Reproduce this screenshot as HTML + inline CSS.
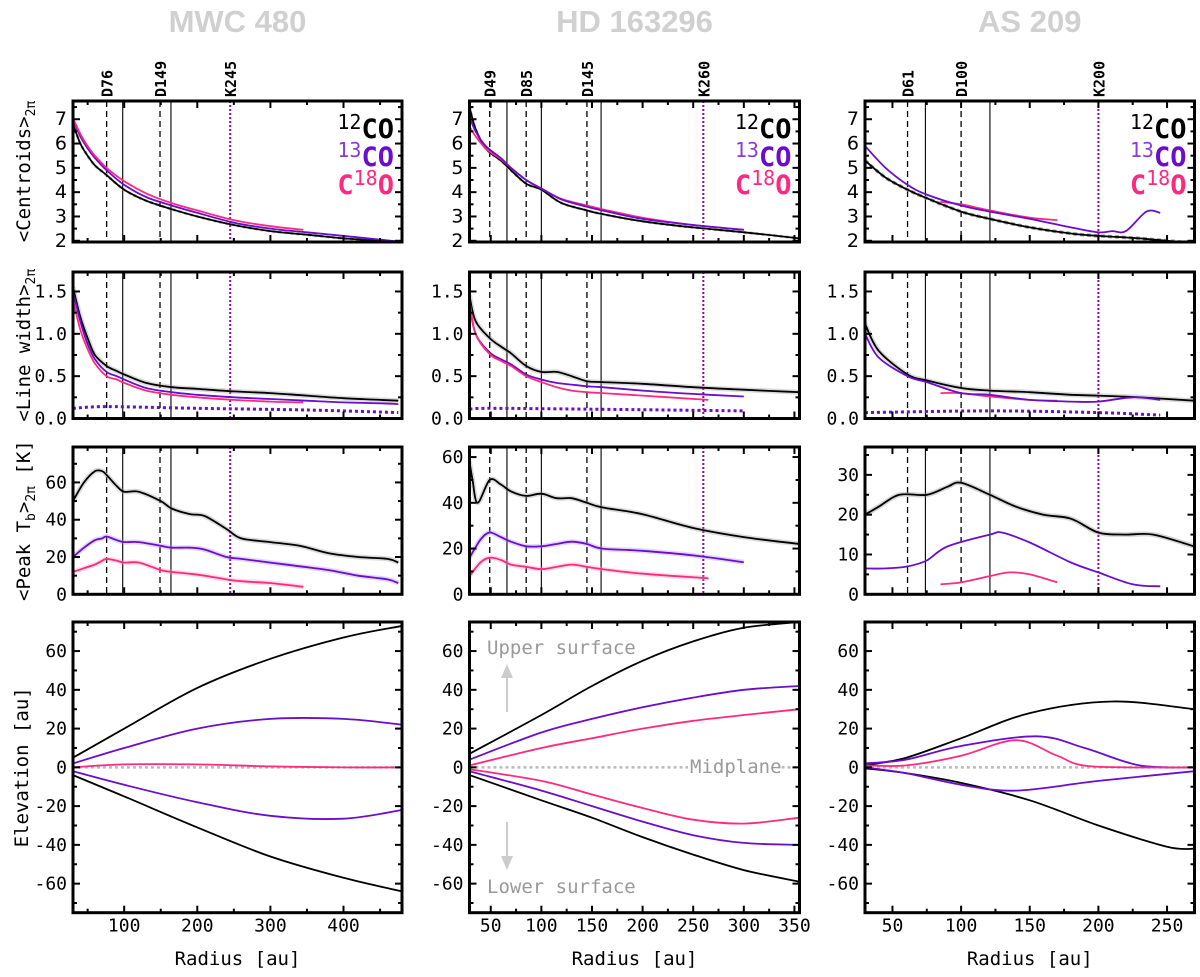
<!DOCTYPE html>
<html><head><meta charset="utf-8"><style>
body{margin:0;background:#fff}
svg text{font-family:"DejaVu Sans Mono","Liberation Mono",monospace}
</style></head><body>
<svg id="fig" width="1200" height="972" viewBox="0 0 1200 972" xmlns="http://www.w3.org/2000/svg"></svg>
<script>
// ---- data: MWC 480 ----
const mwcCR=[30,40,50,60,76,100,130,165,200,250,300,350,400,450,480];
const mwcC12=[6.8,6.0,5.5,5.1,4.7,4.1,3.65,3.3,3.0,2.65,2.4,2.25,2.1,2.0,1.95];
const mwcC13=[7.0,6.3,5.8,5.4,4.9,4.3,3.8,3.45,3.15,2.75,2.5,2.35,2.2,2.05,1.95];
const mwcC18R=[30,40,50,60,76,100,130,165,200,250,300,345];
const mwcC18=[7.05,6.4,5.9,5.5,5.0,4.45,3.95,3.55,3.25,2.85,2.6,2.45];
const mwcLR=[30,40,50,60,76,90,100,130,165,200,250,300,350,400,450,475];
const mwcL12=[1.55,1.2,0.95,0.75,0.62,0.56,0.52,0.42,0.37,0.35,0.32,0.3,0.27,0.24,0.22,0.21];
const mwcL13=[1.5,1.15,0.88,0.7,0.55,0.5,0.46,0.36,0.31,0.28,0.25,0.23,0.21,0.19,0.18,0.17];
const mwcL18R=[30,40,50,60,76,90,100,130,165,200,250,300,345];
const mwcL18=[1.4,1.05,0.82,0.65,0.5,0.46,0.42,0.33,0.28,0.25,0.22,0.2,0.19];
const mwcLdR=[30,76,200,350,475];
const mwcLd=[0.12,0.14,0.12,0.1,0.07];
const mwcTR=[30,45,60,70,76,90,100,120,150,165,190,210,240,260,300,340,380,420,460,475];
const mwcT12=[50,60,66,66,64,58,55,55,50,46,43,42,35,30,28,26,22,20,19,17];
const mwcT13=[20,25,29,30,31,29,28,28,26,25,25,24,20,19,17,15,13,10,8,6];
const mwcT18R=[30,45,60,70,76,90,100,120,150,165,190,210,240,260,300,345];
const mwcT18=[12,14,16,18,19,18,17,17,13,12,11,10,8,7,6,4];
const mwcER=[30,100,200,300,400,480];
const mwcE12u=[5,20,41,56,67,73];
const mwcE12l=[-4,-15,-31,-46,-57,-64];
const mwcE13u=[2,10,20,25,25,22];
const mwcE13l=[-2,-9,-18,-25,-26.5,-22];
const mwcE18=[0,1.5,1.5,0.5,0,0];
// ---- data: HD 163296 ----
const hdCR=[29,35,45,60,70,85,100,120,145,160,200,250,300,355];
const hdC12=[7.5,6.6,5.8,5.3,4.9,4.35,4.1,3.55,3.25,3.1,2.8,2.55,2.35,2.1];
const hdC13R=[29,35,45,60,70,85,100,120,145,160,200,250,300];
const hdC13=[7.1,6.5,5.9,5.4,5.0,4.5,4.15,3.7,3.4,3.25,2.9,2.65,2.45];
const hdC18=[6.7,6.3,5.8,5.35,5.0,4.5,4.15,3.72,3.45,3.3,2.95,2.65,2.45];
const hdLR=[29,35,49,60,70,85,100,115,130,145,160,200,250,300,355];
const hdL12=[1.45,1.15,0.95,0.85,0.77,0.62,0.55,0.55,0.5,0.44,0.43,0.41,0.37,0.34,0.31];
const hdL13R=[29,35,49,60,70,85,100,115,130,145,160,200,250,300];
const hdL13=[1.35,1.0,0.78,0.7,0.64,0.52,0.46,0.42,0.4,0.38,0.37,0.33,0.29,0.26];
const hdL18R=[29,35,49,60,70,85,100,115,130,145,160,200,265];
const hdL18=[1.4,1.0,0.76,0.68,0.62,0.5,0.43,0.37,0.33,0.31,0.3,0.27,0.22];
const hdLdR=[29,49,150,300];
const hdLd=[0.11,0.12,0.11,0.09];
const hdTR=[29,32,37,49,60,70,85,100,115,130,145,160,200,250,300,355];
const hdT12=[58,50,40,50,48,45,43,44,42,42,40,38,35,29,25,22];
const hdT13R=[29,40,49,60,70,85,100,115,130,145,160,200,250,300];
const hdT13=[16,24,27,25,23,21,21,22,23,22,20,19,17,14];
const hdT18R=[29,40,49,60,70,85,100,115,130,145,160,200,265];
const hdT18=[8,14,16,15,13,12,11,12,13,12,11,9,7];
const hdER=[29,100,150,200,250,300,355];
const hdE12u=[7,27,42,55,65,72,75];
const hdE12l=[-4,-17,-26,-36,-45,-53,-59];
const hdE13u=[4,18,25,31,36,40,42];
const hdE13l=[-2,-12,-20,-28,-35,-39,-40];
const hdE18u=[1,10,15,20,24,27,30];
const hdE18l=[-1,-7,-14,-21,-27,-29,-26];
// ---- data: AS 209 ----
const asCR=[30,45,61,75,100,121,150,180,200,230,270];
const asC12=[5.3,4.6,4.1,3.75,3.2,2.9,2.55,2.3,2.2,2.1,1.9];
const asC13R=[30,45,61,75,100,121,150,180,200,210,220,235,245];
const asC13=[5.9,5.0,4.3,3.9,3.45,3.2,2.9,2.55,2.35,2.4,2.4,3.2,3.15];
const asC18R=[85,100,121,150,170];
const asC18=[3.6,3.5,3.25,2.95,2.85];
const asLR=[30,40,61,75,100,121,150,180,200,230,270];
const asL12=[1.12,0.8,0.52,0.45,0.36,0.33,0.31,0.28,0.27,0.25,0.21];
const asL13R=[30,40,61,75,100,121,150,180,200,225,245];
const asL13=[1.0,0.72,0.5,0.43,0.3,0.28,0.22,0.2,0.2,0.25,0.22];
const asL18R=[85,100,121,150,170];
const asL18=[0.3,0.3,0.26,0.22,0.21];
const asLdR=[30,121,200,245];
const asLd=[0.07,0.09,0.07,0.04];
const asTR=[30,40,55,75,90,100,121,140,160,180,200,220,240,270];
const asT12=[20,22,25,25,27,28,25,22,20,19,15.5,15,15,12];
const asT13R=[30,45,61,75,90,121,130,150,180,200,225,245];
const asT13=[6.5,6.5,7,8.5,12,15,15.5,13,8,5.5,2.5,2];
const asT18R=[85,100,120,135,150,170];
const asT18=[2.5,3,4.5,5.5,5,3];
const asE12uR=[30,60,100,150,210,270];
const asE12u=[1,5,15,28,34,30];
const asE12lR=[30,60,100,150,200,250,270];
const asE12l=[-0.5,-3,-8,-17,-30,-41,-42];
const asE13uR=[30,60,100,155,190,230,270];
const asE13u=[2,4,11,16,10,1,0];
const asE13lR=[30,60,100,140,200,270];
const asE13l=[0,-3,-9,-12,-7,-2];
const asE18R=[30,60,100,140,170,195,270];
const asE18=[1,1,6,14,6,0.5,0];
// gaps/rings
const mwcGaps=[76,149], mwcRings=[98,164], mwcKink=245, mwcGapLbl=["D76","D149"], mwcKinkLbl="K245";
const hdGaps=[49,85,145], hdRings=[66,100,159], hdKink=260, hdGapLbl=["D49","D85","D145"], hdKinkLbl="K260";
const asGaps=[61,100], asRings=[74,121], asKink=200, asGapLbl=["D61","D100"], asKinkLbl="K200";

const C12="#000", C13="#6a0dcc", C18="#ff2a80";
const NS="http://www.w3.org/2000/svg";
const svg=document.getElementById('fig');
function mk(tag,attrs,parent){const e=document.createElementNS(NS,tag);for(const k in attrs)e.setAttribute(k,attrs[k]);(parent||svg).appendChild(e);return e;}

const cols=[{x0:73,x1:402,d:[30,480],xmaj:[100,200,300,400],xmin:50},
            {x0:469.5,x1:799.5,d:[29,355],xmaj:[50,100,150,200,250,300,350],xmin:25},
            {x0:865,x1:1194.5,d:[30,270],xmaj:[50,100,150,200,250],xmin:25}];
const rows=[{y0:101,y1:242},{y0:272,y1:418.5},{y0:447,y1:594.3},{y0:622,y1:912.7}];
const ydoms=[[[1.95,7.75],[1.95,7.75],[1.95,7.75]],[[0,1.73],[0,1.73],[0,1.73]],[[0,79],[0,64.4],[0,37]],[[-75,75],[-75,75],[-75,75]]];
const ytk=[[[2,3,4,5,6,7],0.5],[[0,0.5,1.0,1.5],0.25],null,[[-60,-40,-20,0,20,40,60],10]];
const ytk3=[[[0,20,40,60],10],[[0,20,40,60],10],[[0,10,20,30],5]];

function sx(c,v){const C=cols[c];return C.x0+(v-C.d[0])/(C.d[1]-C.d[0])*(C.x1-C.x0);}
function sy(r,c,v){const R=rows[r],D=ydoms[r][c];return R.y1-(v-D[0])/(D[1]-D[0])*(R.y1-R.y0);}
function smooth(pts){let d=`M${pts[0][0]},${pts[0][1]}`;for(let i=0;i<pts.length-1;i++){const p0=pts[i-1]||pts[i],p1=pts[i],p2=pts[i+1],p3=pts[i+2]||p2;
 const c1=[p1[0]+(p2[0]-p0[0])/6,p1[1]+(p2[1]-p0[1])/6],c2=[p2[0]-(p3[0]-p1[0])/6,p2[1]-(p3[1]-p1[1])/6];
 d+=`C${c1[0].toFixed(1)},${c1[1].toFixed(1)} ${c2[0].toFixed(1)},${c2[1].toFixed(1)} ${p2[0].toFixed(1)},${p2[1].toFixed(1)}`;}return d;}
function line(g,r,c,xs,ys,color,name,opts){opts=opts||{};
 const pts=xs.map((x,i)=>[sx(c,x),sy(r,c,ys[i])]);
 if(opts.band){const b=mk('path',{d:smooth(pts),fill:'none',stroke:opts.band,'stroke-width':5,'stroke-opacity':0.35},g);
  
  }
 const p=mk('path',{d:smooth(pts),fill:'none',stroke:color,'stroke-width':opts.w||1.8,'stroke-dasharray':opts.dash||'none','stroke-linecap':opts.cap||'butt'},g);
 
 }

const titles=["MWC 480","HD 163296","AS 209"];
const prefixes=["mwc","hd","as"];
const gapsA=[mwcGaps,hdGaps,asGaps],ringsA=[mwcRings,hdRings,asRings],kinkA=[mwcKink,hdKink,asKink],gapLblA=[mwcGapLbl,hdGapLbl,asGapLbl],kinkLblA=[mwcKinkLbl,hdKinkLbl,asKinkLbl];
const ylabels=["&lt;Centroids&gt;<tspan font-size='13' dy='5'>2π</tspan>","&lt;Line width&gt;<tspan font-size='13' dy='5'>2π</tspan>","&lt;Peak T<tspan font-size='13' dy='5'>b</tspan><tspan dy='-5'>&gt;</tspan><tspan font-size='13' dy='5'>2π</tspan><tspan dy='-5'> [K]</tspan>","Elevation [au]"];

for(let c=0;c<3;c++){
 const C=cols[c];
 const t=mk('text',{x:(C.x0+C.x1)/2,y:32,'text-anchor':'middle','font-size':31,'font-weight':'bold',fill:'#d0d0d0',style:'font-family:"Liberation Sans",sans-serif'});
 t.textContent=titles[c];
 
 
 for(let r=0;r<4;r++){
  const R=rows[r];
  const g=mk('g',{});
  
  
  const cp=mk('clipPath',{id:`cp${c}${r}`},g);mk('rect',{x:C.x0,y:R.y0,width:C.x1-C.x0,height:R.y1-R.y0},cp);
  const pg=mk('g',{'clip-path':`url(#cp${c}${r})`},g);
  if(r<3){
   gapsA[c].forEach((v,i)=>{const l=mk('line',{x1:sx(c,v),x2:sx(c,v),y1:R.y0,y2:R.y1,stroke:'#000','stroke-width':1.3,'stroke-dasharray':'6,4'},pg);
    
    });
   ringsA[c].forEach(v=>{const l=mk('line',{x1:sx(c,v),x2:sx(c,v),y1:R.y0,y2:R.y1,stroke:'#000','stroke-width':1.1},pg);
    
    });
   const k=mk('line',{x1:sx(c,kinkA[c]),x2:sx(c,kinkA[c]),y1:R.y0,y2:R.y1,stroke:'#8a0a9a','stroke-width':2,'stroke-dasharray':'2,2'},pg);
   
   
  }
  if(c===0){
   if(r===0){line(pg,r,c,mwcCR,mwcC12,'#bbb','kepler-model',{dash:'3,3',w:3});line(pg,r,c,mwcCR,mwcC12,C12,'centroid-12co');line(pg,r,c,mwcCR,mwcC13,C13,'centroid-13co');line(pg,r,c,mwcC18R,mwcC18,C18,'centroid-c18o');}
   if(r===1){line(pg,r,c,mwcLR,mwcL12,C12,'linewidth-12co',{band:'#999'});line(pg,r,c,mwcLR,mwcL13,C13,'linewidth-13co');line(pg,r,c,mwcL18R,mwcL18,C18,'linewidth-c18o');line(pg,r,c,mwcLdR,mwcLd,C13,'channel-width',{dash:'3,3',w:3});}
   if(r===2){line(pg,r,c,mwcTR,mwcT12,C12,'peak-12co',{band:'#999'});line(pg,r,c,mwcTR,mwcT13,C13,'peak-13co',{band:'#b090e0'});line(pg,r,c,mwcT18R,mwcT18,C18,'peak-c18o',{band:'#ff9fc0'});}
   if(r===3){line(pg,r,c,[30,480],[0,0],'#bbb','midplane',{dash:'3,3',w:2.5});line(pg,r,c,mwcER,mwcE12u,C12,'surface-12co-upper');line(pg,r,c,mwcER,mwcE12l,C12,'surface-12co-lower');line(pg,r,c,mwcER,mwcE13u,C13,'surface-13co-upper');line(pg,r,c,mwcER,mwcE13l,C13,'surface-13co-lower');line(pg,r,c,mwcER,mwcE18,C18,'surface-c18o');}
  }
  if(c===1){
   if(r===0){line(pg,r,c,hdCR,hdC12,'#bbb','kepler-model',{dash:'3,3',w:3});line(pg,r,c,hdCR,hdC12,C12,'centroid-12co');line(pg,r,c,hdC13R,hdC18,C18,'centroid-c18o');line(pg,r,c,hdC13R,hdC13,C13,'centroid-13co');}
   if(r===1){line(pg,r,c,hdLR,hdL12,C12,'linewidth-12co',{band:'#999'});line(pg,r,c,hdL13R,hdL13,C13,'linewidth-13co');line(pg,r,c,hdL18R,hdL18,C18,'linewidth-c18o');line(pg,r,c,hdLdR,hdLd,C13,'channel-width',{dash:'3,3',w:3});}
   if(r===2){line(pg,r,c,hdTR,hdT12,C12,'peak-12co',{band:'#999'});line(pg,r,c,hdT13R,hdT13,C13,'peak-13co',{band:'#b090e0'});line(pg,r,c,hdT18R,hdT18,C18,'peak-c18o',{band:'#ff9fc0'});}
   if(r===3){line(pg,r,c,[29,355],[0,0],'#bbb','midplane',{dash:'3,3',w:2.5});line(pg,r,c,hdER,hdE12u,C12,'surface-12co-upper');line(pg,r,c,hdER,hdE12l,C12,'surface-12co-lower');line(pg,r,c,hdER,hdE13u,C13,'surface-13co-upper');line(pg,r,c,hdER,hdE13l,C13,'surface-13co-lower');line(pg,r,c,hdER,hdE18u,C18,'surface-c18o-upper');line(pg,r,c,hdER,hdE18l,C18,'surface-c18o-lower');}
  }
  if(c===2){
   if(r===0){line(pg,r,c,asCR,asC12,'#999','kepler-model',{dash:'4,3',w:3.5});line(pg,r,c,asCR,asC12,C12,'centroid-12co');line(pg,r,c,asC18R,asC18,C18,'centroid-c18o');line(pg,r,c,asC13R,asC13,C13,'centroid-13co');}
   if(r===1){line(pg,r,c,asLR,asL12,C12,'linewidth-12co',{band:'#999'});line(pg,r,c,asL18R,asL18,C18,'linewidth-c18o');line(pg,r,c,asL13R,asL13,C13,'linewidth-13co');line(pg,r,c,asLdR,asLd,C13,'channel-width',{dash:'3,3',w:3});}
   if(r===2){line(pg,r,c,asTR,asT12,C12,'peak-12co',{band:'#888'});line(pg,r,c,asT13R,asT13,C13,'peak-13co');line(pg,r,c,asT18R,asT18,C18,'peak-c18o');}
   if(r===3){line(pg,r,c,[30,270],[0,0],'#bbb','midplane',{dash:'3,3',w:2.5});line(pg,r,c,asE12uR,asE12u,C12,'surface-12co-upper');line(pg,r,c,asE12lR,asE12l,C12,'surface-12co-lower');line(pg,r,c,asE13uR,asE13u,C13,'surface-13co-upper');line(pg,r,c,asE13lR,asE13l,C13,'surface-13co-lower');line(pg,r,c,asE18R,asE18,C18,'surface-c18o');}
  }
  const tk=mk('g',{stroke:'#000','stroke-width':2},g);
  for(let v=Math.ceil(C.d[0]/C.xmin)*C.xmin;v<=C.d[1];v+=C.xmin){
   const big=C.xmaj.includes(v),L=big?7:4,x=sx(c,v);
   mk('line',{x1:x,x2:x,y1:R.y1,y2:R.y1-L},tk);mk('line',{x1:x,x2:x,y1:R.y0,y2:R.y0+L},tk);}
  const yt=r===2?ytk3[c]:ytk[r];const D=ydoms[r][c];
  for(let v=Math.ceil(D[0]/yt[1]-1e-9)*yt[1];v<=D[1]+1e-9;v+=yt[1]){
   const big=yt[0].some(m=>Math.abs(m-v)<1e-6),L=big?7:4,y=sy(r,c,v);
   mk('line',{x1:C.x0,x2:C.x0+L,y1:y,y2:y},tk);mk('line',{x1:C.x1,x2:C.x1-L,y1:y,y2:y},tk);}
  yt[0].forEach(v=>{const tl=mk('text',{x:C.x0-6,y:sy(r,c,v)+6,'text-anchor':'end','font-size':r===0?19:18,fill:'#000',style:r===0?'font-family:"DejaVu Sans",sans-serif':''},g);
   tl.textContent=r===1?v.toFixed(1):String(v);
   
   });
  if(r===3){C.xmaj.forEach(v=>{const tl=mk('text',{x:sx(c,v),y:R.y1+19,'text-anchor':'middle','font-size':18,fill:'#000'},g);
   tl.textContent=String(v);
   
   });
   const xt=mk('text',{x:(C.x0+C.x1)/2,y:965,'text-anchor':'middle','font-size':19,fill:'#000'},g);
   xt.textContent='Radius [au]';
   
   }
  const fr=mk('rect',{x:C.x0,y:R.y0,width:C.x1-C.x0,height:R.y1-R.y0,fill:'none',stroke:'#000','stroke-width':3},g);
  
  
  if(c===0){const yl=mk('text',{transform:`translate(${r===3?28:30},${(R.y0+R.y1)/2}) rotate(-90)`,'text-anchor':'middle','font-size':19,fill:'#000'},g);
   yl.innerHTML=ylabels[r];
   
   }
  if(r===0){
   gapsA[c].concat([kinkA[c]]).forEach((v,i)=>{const lb=mk('text',{transform:`translate(${sx(c,v)+6},${R.y0-4}) rotate(-90)`,'font-size':15,'font-weight':'bold',fill:'#000'},g);
    lb.textContent=i<gapsA[c].length?gapLblA[c][i]:kinkLblA[c];
    
    });
   const lg=mk('g',{style:'font-family:"DejaVu Sans",sans-serif','font-weight':'bold','text-anchor':'end'},g);
   
   
   [["12","CO","",C12,"#000"],["13","CO","",C13,"#8a3ae0"],["C","O","18",C18,C18]].forEach((e,i)=>{
    const tx=mk('text',{x:C.x1-8,y:R.y0+37+i*28,'font-size':27,fill:e[3]},lg);
    if(i<2) tx.innerHTML=`<tspan font-size='20' font-weight='normal' fill='${e[4]}' dy='-9'>${e[0]}</tspan><tspan dy='9'>${e[1]}</tspan>`;
    else tx.innerHTML=`C<tspan font-size='20' font-weight='normal' dy='-9'>18</tspan><tspan dy='9'>O</tspan>`;
    
    });
  }
 }
}
const an=mk('g',{fill:'#999',style:'font-family:"Liberation Sans",sans-serif','font-size':19});


const up=mk('text',{x:487,y:654},an);up.textContent='Upper surface';


const lo=mk('text',{x:487,y:893},an);lo.textContent='Lower surface';


mk('rect',{x:688,y:754,width:90,height:24,fill:'#fff'},an);
const mp=mk('text',{x:690,y:773},an);mp.textContent='Midplane';


mk('line',{x1:507,y1:712,x2:507,y2:676,stroke:'#ccc','stroke-width':2},an);
mk('polygon',{points:'501,678 513,678 507,664',fill:'#ccc'},an);
mk('line',{x1:507,y1:822,x2:507,y2:858,stroke:'#ccc','stroke-width':2},an);
mk('polygon',{points:'501,856 513,856 507,870',fill:'#ccc'},an);
</script>
</body></html>
